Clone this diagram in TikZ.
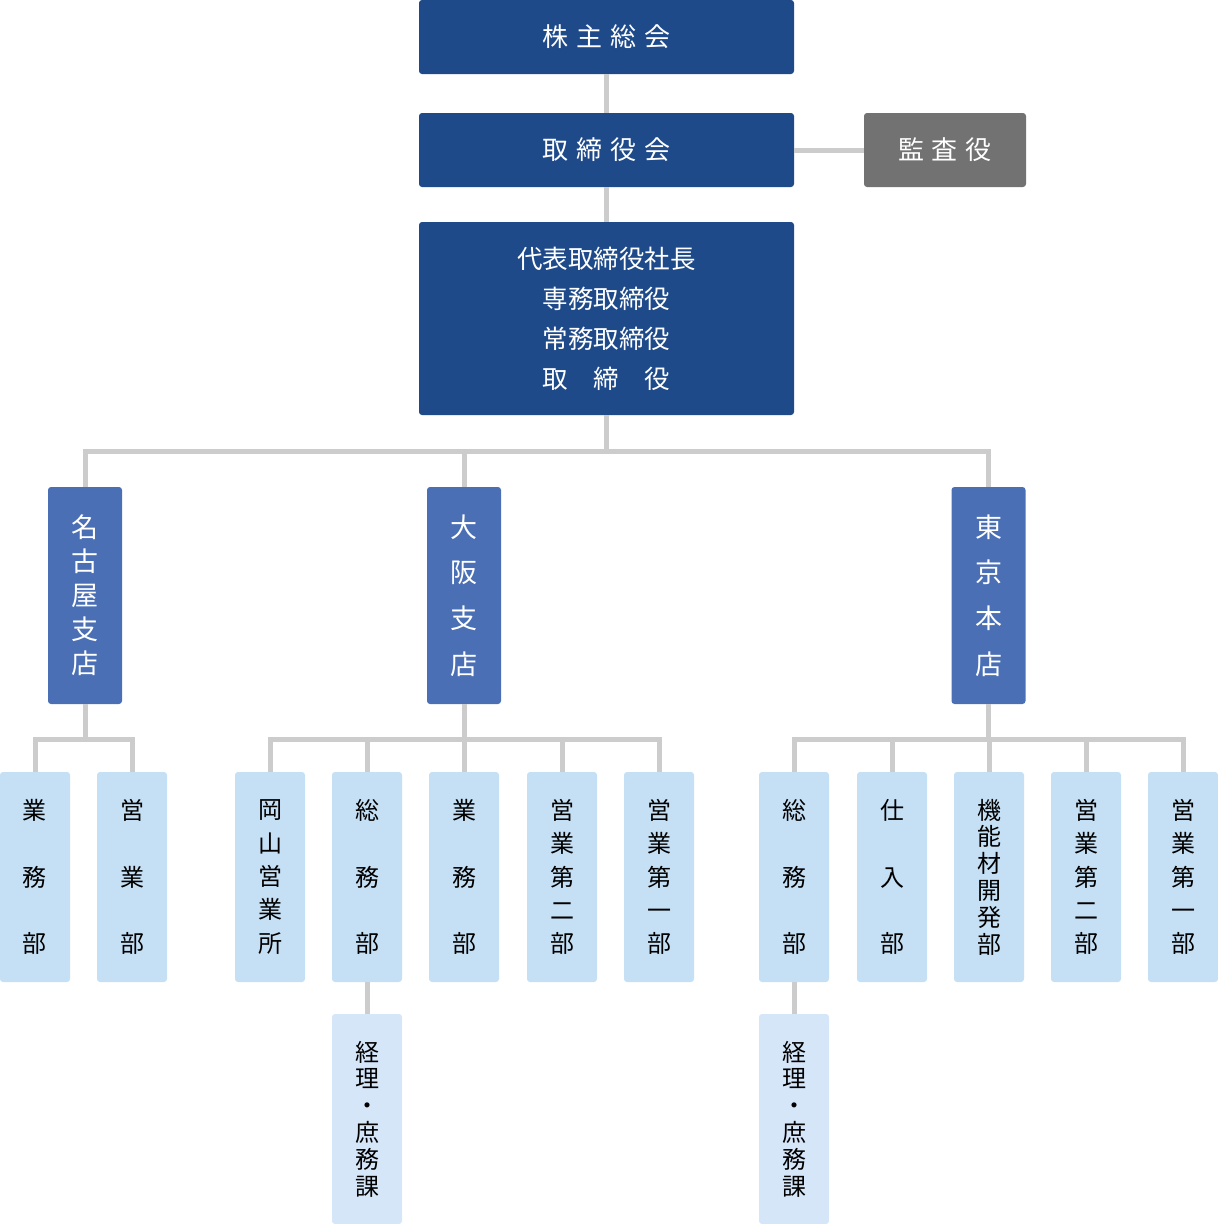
\documentclass[tikz,border=0pt]{standalone}
\usepackage{fontspec}
\setmainfont{Noto Sans CJK JP}
\definecolor{dkblue}{HTML}{1F4A8A}
\definecolor{mdblue}{HTML}{4A6FB5}
\definecolor{ltblue}{HTML}{C5E0F5}
\definecolor{ltblueb}{HTML}{D6E6F9}
\definecolor{boxgray}{HTML}{727272}
\definecolor{linegray}{HTML}{CCCCCC}
\newcommand{\tsp}{\hspace{8pt}}
\begin{document}
\begin{tikzpicture}[x=1pt,y=-1pt,
  box/.style={rounded corners=3pt, inner sep=0pt, align=center},
  topbox/.style={box, fill=dkblue, text=white, minimum width=375pt, minimum height=74pt, font=\fontsize{26}{30}\selectfont},
  auditbox/.style={box, fill=boxgray, text=white, minimum width=162pt, minimum height=74pt, font=\fontsize{26}{30}\selectfont},
  execbox/.style={box, fill=dkblue, text=white, minimum width=375pt, minimum height=193pt, font=\fontsize{25.5}{40}\selectfont},
  branchbox/.style={box, fill=mdblue, text=white, minimum width=74pt, minimum height=217pt},
  deptbox/.style={box, fill=ltblue, text=black, minimum width=70pt, minimum height=210pt},
  sectbox/.style={deptbox, fill=ltblueb},
  three/.style={font=\fontsize{24}{66.7}\selectfont},
  five/.style={font=\fontsize{24}{33.3}\selectfont},
  six/.style={font=\fontsize{24}{26.8}\selectfont},
  conn/.style={draw=linegray, line width=5pt}]
\useasboundingbox (0,0) rectangle (1218,1224);
% top levels
\node[topbox] (gm) at (606.5,37) {株\tsp 主\tsp 総\tsp 会};
\node[topbox] (board) at (606.5,150) {取\tsp 締\tsp 役\tsp 会};
\node[auditbox] (audit) at (945,150) {監\tsp 査\tsp 役};
\node[execbox] (exec) at (606.5,318.5) {代表取締役社長\\専務取締役\\常務取締役\\取\hspace{25.5pt}締\hspace{25.5pt}役};
% branches
\node[branchbox, font=\fontsize{27}{34}\selectfont] (nagoya) at (85,595.5) {名\\古\\屋\\支\\店};
\node[branchbox, font=\fontsize{27}{45.7}\selectfont] (osaka) at (464,595.5) {大\\阪\\支\\店};
\node[branchbox, font=\fontsize{27}{45.7}\selectfont] (tokyo) at (988.5,595.5) {東\\京\\本\\店};
% Nagoya depts
\node[deptbox, three] (n1) at (35,877) {業\\務\\部};
\node[deptbox, three] (n2) at (132,877) {営\\業\\部};
% Osaka depts
\node[deptbox, five] (o1) at (270,877) {岡\\山\\営\\業\\所};
\node[deptbox, three] (o2) at (367,877) {総\\務\\部};
\node[deptbox, three] (o3) at (464,877) {業\\務\\部};
\node[deptbox, five] (o4) at (562,877) {営\\業\\第\\二\\部};
\node[deptbox, five] (o5) at (659,877) {営\\業\\第\\一\\部};
% Tokyo depts
\node[deptbox, three] (t1) at (794,877) {総\\務\\部};
\node[deptbox, three] (t2) at (892,877) {仕\\入\\部};
\node[deptbox, six] (t3) at (989,877) {機\\能\\材\\開\\発\\部};
\node[deptbox, five] (t4) at (1086,877) {営\\業\\第\\二\\部};
\node[deptbox, five] (t5) at (1183,877) {営\\業\\第\\一\\部};
% sections
\node[sectbox, six] (s1) at (367,1119) {経\\理\\・\\庶\\務\\課};
\node[sectbox, six] (s2) at (794,1119) {経\\理\\・\\庶\\務\\課};
% connectors
\draw[conn] (gm.south) -- (board.north);
\draw[conn] (board.south) -- (exec.north);
\draw[conn] (board.east) -- (audit.west);
\draw[conn] (nagoya.north) -- ++(0,-35) -| (tokyo.north);
\draw[conn] (exec.south) -- ++(0,37);
\draw[conn] (osaka.north) -- ++(0,-35);
\draw[conn] (nagoya.south) -- ++(0,36);
\draw[conn] (n1.north) -- ++(0,-32) -| (n2.north);
\draw[conn] (osaka.south) -- ++(0,36);
\draw[conn] (o1.north) -- ++(0,-32) -| (o5.north);
\draw[conn] (o2.north) -- ++(0,-32);
\draw[conn] (o3.north) -- ++(0,-32);
\draw[conn] (o4.north) -- ++(0,-32);
\draw[conn] (tokyo.south) -- ++(0,36);
\draw[conn] (t1.north) -- ++(0,-32) -| (t5.north);
\draw[conn] (t2.north) -- ++(0,-32);
\draw[conn] (t3.north) -- ++(0,-32);
\draw[conn] (t4.north) -- ++(0,-32);
\draw[conn] (o2.south) -- (s1.north);
\draw[conn] (t1.south) -- (s2.north);
\end{tikzpicture}
\end{document}
